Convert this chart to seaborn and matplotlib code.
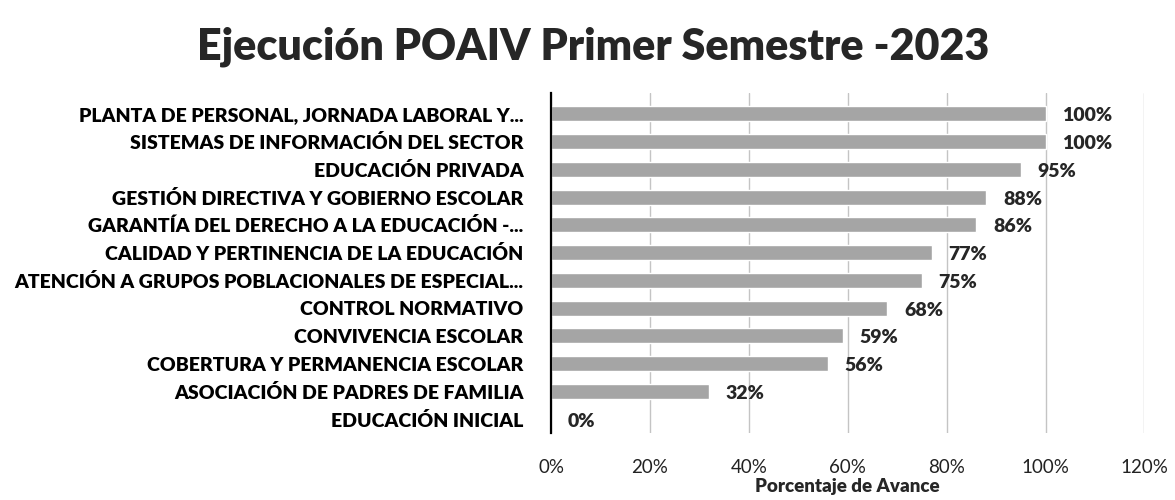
import seaborn as sns
from matplotlib import pyplot as plt
from matplotlib.ticker import PercentFormatter
import pandas as pd

categorias = [
    "PLANTA DE PERSONAL, JORNADA LABORAL Y...",
    "SISTEMAS DE INFORMACIÓN DEL SECTOR",
    "EDUCACIÓN PRIVADA",
    "GESTIÓN DIRECTIVA Y GOBIERNO ESCOLAR",
    "GARANTÍA DEL DERECHO A LA EDUCACIÓN -...",
    "CALIDAD Y PERTINENCIA DE LA EDUCACIÓN",
    "ATENCIÓN A GRUPOS POBLACIONALES DE ESPECIAL...",
    "CONTROL NORMATIVO",
    "CONVIVENCIA ESCOLAR",
    "COBERTURA Y PERMANENCIA ESCOLAR",
    "ASOCIACIÓN DE PADRES DE FAMILIA",
    "EDUCACIÓN INICIAL",
]
avance = [1.00, 1.00, 0.95, 0.88, 0.86, 0.77, 0.75, 0.68, 0.59, 0.56, 0.32, 0.00]
ticks_x = [0, 0.2, 0.4, 0.6, 0.8, 1.0, 1.2]

df = pd.DataFrame({"Componente": categorias, "Avance": avance})

sns.set_style("white")
plt.rcParams['font.family'] = ['Lato', 'DejaVu Sans']

fig = plt.figure(figsize=(11.75, 5), dpi=100)
ax = fig.add_axes([0.469, 0.134, 0.505, 0.68])

sns.barplot(data=df, x="Avance", y="Componente", color="#a5a5a5",
            width=0.54, orient="h", ax=ax)

ax.set_xlim(0, 1.2)
ax.set_ylim(11.5, -0.75)
ax.set_xticks(ticks_x)
ax.xaxis.set_major_formatter(PercentFormatter(1.0, decimals=0))
ax.grid(axis="x", color="#c4c4c4", linewidth=1)
ax.set_axisbelow(True)
for s in ["top", "right", "bottom"]:
    ax.spines[s].set_visible(False)
ax.spines["left"].set_color("black")
ax.spines["left"].set_linewidth(1.6)

ax.tick_params(axis="y", length=0, pad=20, labelsize=14, labelcolor="black")
ax.tick_params(axis="x", length=0, pad=19, labelsize=13.5, labelcolor="#222222")
for lab in ax.get_yticklabels():
    lab.set_fontweight("heavy")

ax.set_ylabel("")
ax.set_xlabel("Porcentaje de Avance", fontsize=13.5, fontweight="heavy", labelpad=1)

for i, v in enumerate(avance):
    ax.annotate(f"{v:.0%}", xy=(v, i), xytext=(12, -1.5), textcoords="offset points",
                va="center", ha="left", fontsize=14, fontweight="heavy")

fig.text(0.505, 0.907, "Ejecución POAIV Primer Semestre -2023", ha="center",
         va="center", fontsize=31, fontweight="heavy")

plt.savefig("out.png", dpi=100)
plt.close()
